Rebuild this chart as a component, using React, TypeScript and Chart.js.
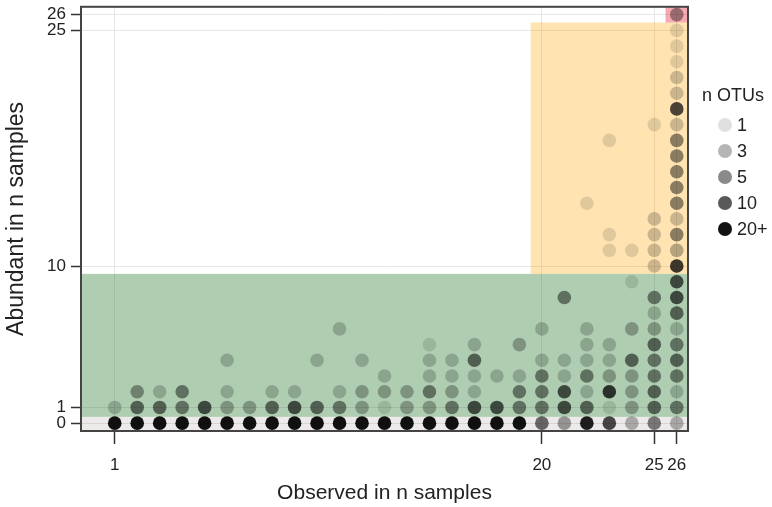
import React, { useEffect, useRef } from 'react';
import { Chart, registerables } from 'chart.js';

Chart.register(...registerables);

// Observed in n samples (x categories)
const observedIn = [1, 2, 3, 4, 5, 6, 7, 8, 9, 10, 11, 12, 13, 14, 15, 16, 17, 18, 19, 20, 21, 22, 23, 24, 25, 26];

// Number of OTUs for each "abundant in n samples" value (index = abundant n, 0 = no point), one row per observed n
const otuCounts: number[][] = [
  [20, 2],
  [20, 7, 4],
  [20, 7, 2],
  [20, 5, 5],
  [20, 10],
  [20, 3, 2, 0, 2],
  [20, 3],
  [20, 7, 2],
  [20, 10, 2],
  [20, 7, 0, 0, 2],
  [20, 5, 2, 0, 0, 0, 2],
  [20, 3, 3, 0, 2],
  [20, 1, 3, 2],
  [20, 3, 3],
  [20, 3, 5, 2, 2, 1],
  [20, 5, 3, 2, 2],
  [20, 10, 2, 2, 7, 2],
  [20, 10, 0, 2],
  [20, 5, 5, 2, 0, 3],
  [8, 5, 5, 5, 2, 0, 2],
  [4, 10, 10, 2, 2, 0, 0, 0, 5],
  [18, 7, 2, 5, 2, 2, 2, 0, 0, 0, 0, 0, 0, 0, 1],
  [12, 1, 14, 3, 2, 2, 0, 0, 0, 0, 0, 1, 1, 0, 0, 0, 0, 0, 1],
  [3, 3, 3, 3, 7, 0, 3, 0, 0, 1, 0, 1],
  [6, 7, 7, 5, 5, 7, 3, 2, 5, 0, 2, 2, 2, 2, 0, 0, 0, 0, 0, 1],
  [3, 5, 2, 5, 7, 5, 2, 7, 10, 10, 14, 3, 5, 2, 5, 5, 5, 5, 5, 2, 12, 2, 2, 1, 1, 1, 4],
];

const xTicks = [1, 20, 25, 26];
const yTicks = [0, 1, 10, 25, 26];

const legendCounts = [1, 3, 5, 10, 20];
const legendLabels = ['1', '3', '5', '10', '20+'];

// alpha stops of the n OTUs scale
const alphaCounts = [1, 3, 5, 10, 20];
const alphaValues = [0.12, 0.29, 0.46, 0.65, 0.93];

// shaded regions [x0, x1, y0, y1]
const bandZero = [-0.5, 26.5, -0.5, 0.4];
const bandGreen = [-0.5, 26.5, 0.4, 9.5];
const bandOrange = [19.5, 26.5, 9.5, 25.5];
const bandRed = [25.5, 26.5, 25.5, 26.5];

const FONT = "'Liberation Sans', Arial, Helvetica, sans-serif";

function alphaFor(n: number): number {
  if (n <= alphaCounts[0]) return alphaValues[0];
  for (let i = 1; i < alphaCounts.length; i++) {
    if (n <= alphaCounts[i]) {
      const t = (n - alphaCounts[i - 1]) / (alphaCounts[i] - alphaCounts[i - 1]);
      return alphaValues[i - 1] + t * (alphaValues[i] - alphaValues[i - 1]);
    }
  }
  return alphaValues[alphaValues.length - 1];
}

const shadingPlugin = {
  id: 'shading',
  beforeDatasetsDraw(chart: any) {
    const { ctx, chartArea, scales } = chart;
    const xs = scales.x;
    const ys = scales.y;
    const regions: [number[], string][] = [
      [bandZero, 'rgba(150,125,125,0.16)'],
      [bandGreen, 'rgba(46,125,50,0.38)'],
      [bandOrange, 'rgba(255,165,0,0.30)'],
      [bandRed, 'rgba(230,40,60,0.40)'],
    ];
    ctx.save();
    ctx.beginPath();
    ctx.rect(chartArea.left, chartArea.top, chartArea.right - chartArea.left, chartArea.bottom - chartArea.top);
    ctx.clip();
    for (const [r, c] of regions) {
      const x0 = xs.getPixelForValue(r[0]);
      const x1 = xs.getPixelForValue(r[1]);
      const y0 = ys.getPixelForValue(r[2]);
      const y1 = ys.getPixelForValue(r[3]);
      ctx.fillStyle = c;
      ctx.fillRect(x0, y1, x1 - x0, y0 - y1);
    }
    ctx.restore();
  },
  afterDraw(chart: any) {
    const { ctx, chartArea } = chart;
    ctx.save();
    ctx.strokeStyle = '#444';
    ctx.lineWidth = 2;
    ctx.strokeRect(chartArea.left, chartArea.top, chartArea.right - chartArea.left, chartArea.bottom - chartArea.top);
    // legend
    ctx.fillStyle = '#222';
    ctx.font = `18px ${FONT}`;
    ctx.textBaseline = 'middle';
    ctx.textAlign = 'left';
    ctx.fillText('n OTUs', 702, 96);
    legendCounts.forEach((n, i) => {
      const cy = 125 + i * 26;
      ctx.beginPath();
      ctx.arc(725, cy, 7, 0, Math.PI * 2);
      ctx.fillStyle = `rgba(0,0,0,${alphaFor(n)})`;
      ctx.fill();
      ctx.fillStyle = '#222';
      ctx.fillText(legendLabels[i], 737, cy + 1);
    });
    ctx.restore();
  },
};

export default function App() {
  const ref = useRef<HTMLCanvasElement>(null);
  useEffect(() => {
    if (!ref.current) return;
    const points: { x: number; y: number }[] = [];
    const colors: string[] = [];
    otuCounts.forEach((row, i) => {
      row.forEach((n, y) => {
        if (n > 0) {
          points.push({ x: observedIn[i], y });
          colors.push(`rgba(0,0,0,${alphaFor(n)})`);
        }
      });
    });
    const chart = new Chart(ref.current, {
      type: 'scatter',
      data: {
        datasets: [
          {
            data: points,
            pointBackgroundColor: colors,
            pointBorderWidth: 0,
            pointRadius: 6.8,
            pointHoverRadius: 6.8,
          } as any,
        ],
      },
      options: {
        animation: false,
        responsive: true,
        maintainAspectRatio: false,
        layout: { padding: { top: 6, right: 84, bottom: 0, left: 0 } },
        plugins: { legend: { display: false }, tooltip: { enabled: false } },
        scales: {
          x: {
            type: 'linear',
            min: -0.5,
            max: 26.5,
            afterBuildTicks: (s: any) => {
              s.ticks = xTicks.map((v) => ({ value: v }));
            },
            afterFit: (s: any) => {
              s.height = 76;
              s.paddingLeft = 0;
              s.paddingRight = 0;
            },
            ticks: {
              autoSkip: false,
              maxRotation: 0,
              minRotation: 0,
              padding: 11,
              color: '#222',
              font: { size: 17, family: FONT },
              callback: (v: any) => String(v),
            },
            grid: { color: '#e6e6e6', lineWidth: 1, tickLength: 13, tickColor: '#333', tickWidth: 1.5 },
            border: { display: false },
            title: {
              display: true,
              text: 'Observed in n samples',
              color: '#222',
              font: { size: 21, family: FONT },
              padding: { top: 0, bottom: 1 },
            },
          },
          y: {
            type: 'linear',
            min: -0.5,
            max: 26.5,
            afterBuildTicks: (s: any) => {
              s.ticks = yTicks.map((v) => ({ value: v }));
            },
            afterFit: (s: any) => {
              s.width = 81;
              s.paddingTop = 0;
              s.paddingBottom = 0;
            },
            ticks: {
              autoSkip: false,
              padding: 5,
              color: '#222',
              font: { size: 17, family: FONT },
              callback: (v: any) => String(v),
            },
            grid: { color: '#e6e6e6', lineWidth: 1, tickLength: 10, tickColor: '#333', tickWidth: 1.5 },
            border: { display: false },
            title: {
              display: true,
              text: 'Abundant in n samples',
              color: '#222',
              font: { size: 23, family: FONT },
              padding: { top: 3, bottom: 0 },
            },
          },
        },
      },
      plugins: [shadingPlugin],
    });
    return () => chart.destroy();
  }, []);
  return (
    <div style={{ position: 'fixed', left: 0, top: 0, width: 772, height: 507 }}>
      <canvas ref={ref} />
    </div>
  );
}
